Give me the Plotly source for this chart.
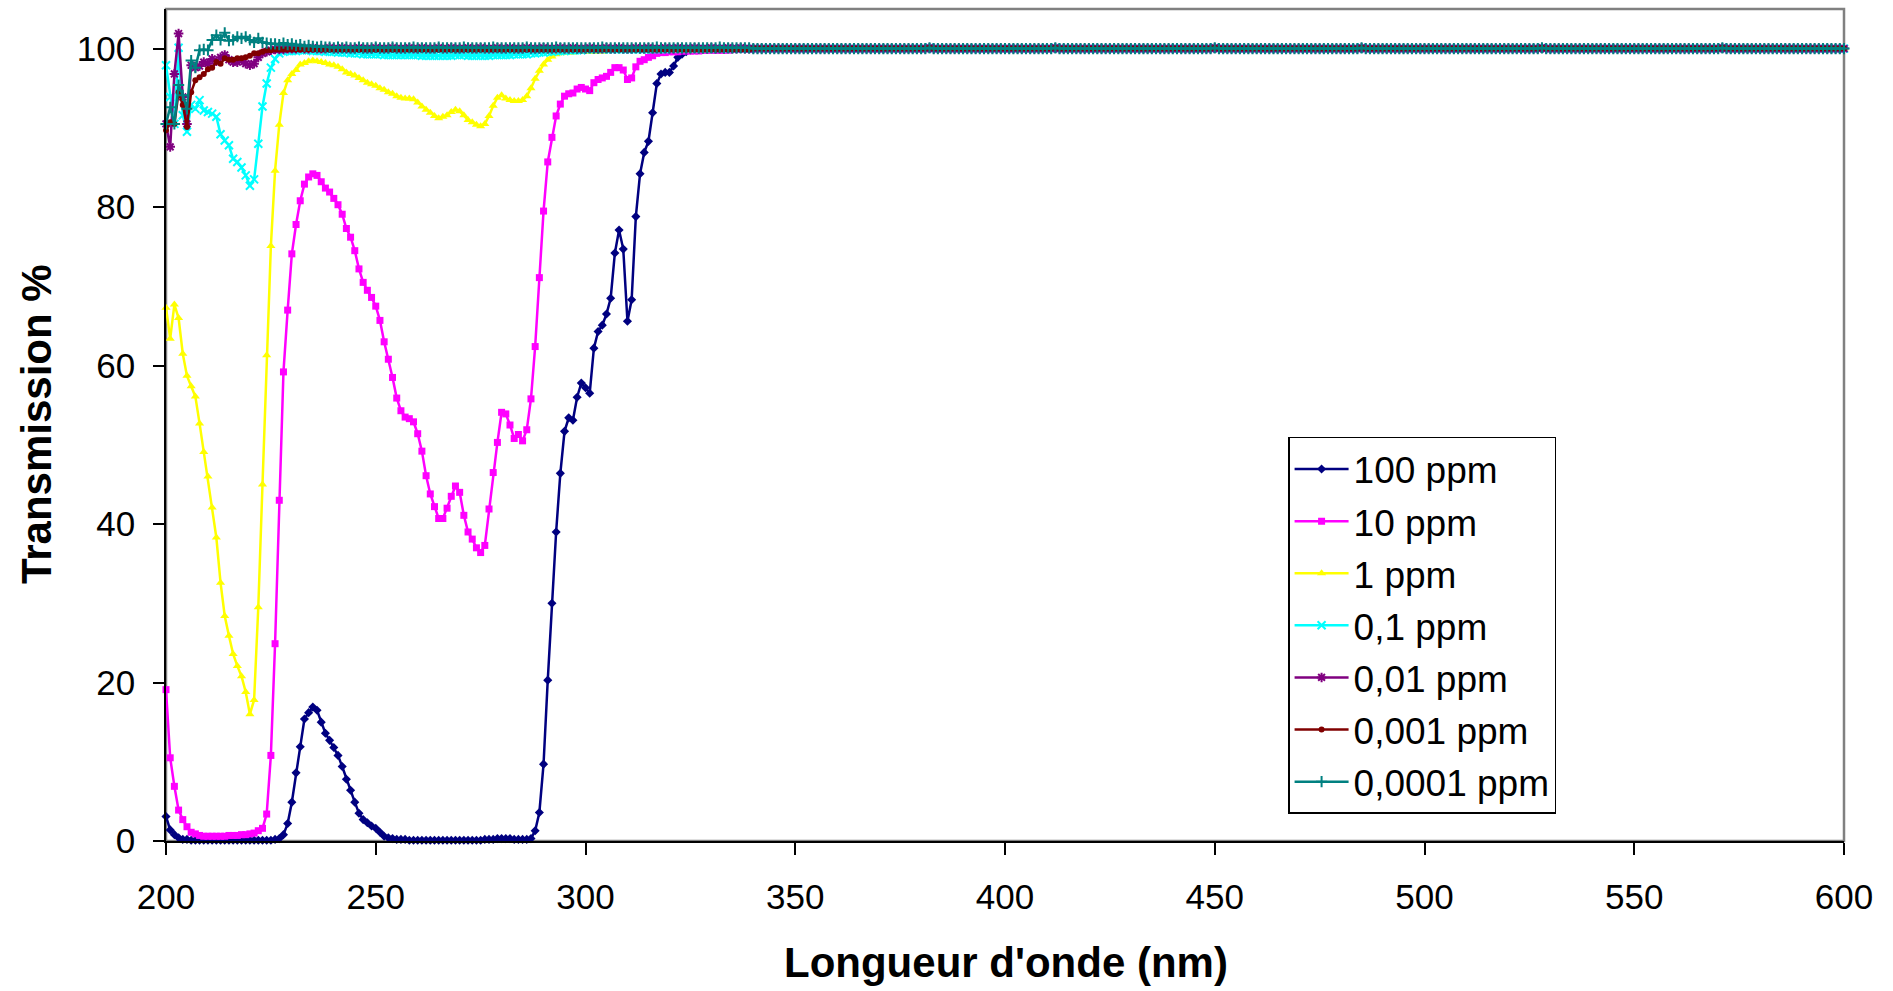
import plotly.graph_objects as go

# ---------------- data ----------------
WAVELENGTH_NM = list(range(200, 601))          # 1 nm sampling, 200..600 nm
SERIES_NAMES = ["100 ppm", "10 ppm", "1 ppm", "0,1 ppm", "0,01 ppm", "0,001 ppm", "0,0001 ppm"]
X_TICKS = [200, 250, 300, 350, 400, 450, 500, 550, 600]
Y_TICKS = [0, 20, 40, 60, 80, 100]

# transmission (%) from 200 to 339 nm, one value per nm
T_100PPM = [
    3.1, 1.4, 0.8, 0.4, 0.2, 0.2, 0.1, 0.1, 0.1, 0.1,        # 200
    0.1, 0.1, 0.1, 0.1, 0.1, 0.1, 0.1, 0.1, 0.1, 0.1,        # 210
    0.1, 0.1, 0.1, 0.1, 0.1, 0.1, 0.2, 0.3, 0.8, 2.2,        # 220
    4.9, 8.6, 11.9, 15.4, 16.2, 16.9, 16.5, 15.0, 13.6, 12.7,  # 230
    11.8, 10.8, 9.4, 7.8, 6.4, 4.9, 3.5, 2.7, 2.3, 1.9,      # 240
    1.6, 1.1, 0.6, 0.4, 0.3, 0.2, 0.2, 0.2, 0.1, 0.1,        # 250
    0.1, 0.1, 0.1, 0.1, 0.1, 0.1, 0.1, 0.1, 0.1, 0.1,        # 260
    0.1, 0.1, 0.1, 0.1, 0.1, 0.1, 0.2, 0.2, 0.2, 0.3,        # 270
    0.3, 0.3, 0.3, 0.2, 0.2, 0.2, 0.2, 0.3, 1.3, 3.6,        # 280
    9.7, 20.3, 30.0, 39.0, 46.4, 51.7, 53.4, 53.1, 56.0, 57.8,  # 290
    57.2, 56.5, 62.2, 64.3, 65.1, 66.5, 68.5, 74.2, 77.1, 74.7,  # 300
    65.6, 68.3, 78.8, 84.2, 86.9, 88.3, 91.9, 95.6, 96.8, 97.0,  # 310
    97.0, 97.8, 98.9, 99.3, 99.6, 99.8, 99.9, 99.9, 100.0, 100.0,  # 320
    100.0, 100.0, 100.0, 100.0, 100.0, 100.0, 100.0, 100.0, 100.0, 100.0,  # 330
]
T_10PPM = [
    19.1, 10.5, 6.9, 3.9, 2.7, 1.8, 1.1, 0.9, 0.7, 0.6,      # 200
    0.6, 0.6, 0.6, 0.6, 0.6, 0.7, 0.7, 0.7, 0.8, 0.8,        # 210
    0.9, 1.0, 1.3, 1.6, 3.4, 10.8, 24.9, 43.0, 59.2, 67.0,   # 220
    74.1, 77.8, 80.8, 82.9, 83.8, 84.2, 84.0, 83.2, 82.4, 81.9,  # 230
    81.1, 80.3, 79.1, 77.3, 76.2, 74.5, 72.2, 70.5, 69.5, 68.6,  # 240
    67.5, 65.7, 63.0, 60.8, 58.5, 55.9, 54.3, 53.5, 53.3, 52.9,  # 250
    51.4, 49.2, 46.1, 43.8, 42.2, 40.7, 40.7, 42.0, 43.5, 44.8,  # 260
    44.0, 41.1, 39.0, 38.1, 37.0, 36.4, 37.3, 41.9, 46.5, 50.3,  # 270
    54.1, 53.9, 52.5, 50.8, 51.3, 50.5, 51.9, 55.8, 62.4, 71.1,  # 280
    79.5, 85.7, 88.8, 91.5, 93.0, 94.0, 94.3, 94.4, 94.9, 95.1,  # 290
    94.9, 94.7, 95.7, 96.1, 96.3, 96.5, 97.0, 97.6, 97.6, 97.3,  # 300
    96.1, 96.3, 97.7, 98.4, 98.6, 98.9, 99.1, 99.4, 99.5, 99.5,  # 310
    99.6, 99.6, 99.6, 99.7, 99.7, 99.7, 99.7, 99.7, 99.8, 99.8,  # 320
    99.8, 99.8, 99.8, 99.8, 99.8, 99.9, 99.9, 99.9, 99.9, 99.9,  # 330
]
T_1PPM = [
    67.3, 63.4, 67.7, 66.0, 61.5, 58.7, 57.4, 56.1, 52.7, 49.1,  # 200
    46.0, 42.1, 38.3, 32.6, 28.4, 25.9, 23.6, 22.1, 20.8, 18.8,  # 210
    16.0, 17.8, 29.5, 45.0, 61.3, 75.1, 84.6, 90.4, 94.4, 96.0,  # 220
    96.8, 97.3, 98.0, 98.2, 98.4, 98.5, 98.4, 98.3, 98.2, 98.0,  # 230
    97.9, 97.7, 97.4, 97.0, 96.8, 96.6, 96.3, 96.0, 95.7, 95.5,  # 240
    95.3, 95.0, 94.8, 94.5, 94.3, 94.0, 93.8, 93.7, 93.7, 93.6,  # 250
    93.2, 92.7, 92.3, 91.9, 91.5, 91.2, 91.4, 91.6, 92.0, 92.3,  # 260
    92.1, 91.6, 91.0, 90.7, 90.4, 90.2, 90.5, 91.5, 92.8, 93.8,  # 270
    94.1, 93.7, 93.5, 93.4, 93.4, 93.5, 94.0, 95.0, 96.2, 97.2,  # 280
    98.0, 98.6, 99.0, 99.3, 99.4, 99.5, 99.5, 99.5, 99.6, 99.6,  # 290
    99.6, 99.6, 99.6, 99.6, 99.6, 99.7, 99.7, 99.7, 99.7, 99.7,  # 300
    99.7, 99.7, 99.7, 99.7, 99.7, 99.7, 99.7, 99.7, 99.7, 99.7,  # 310
    99.8, 99.8, 99.8, 99.8, 99.8, 99.8, 99.8, 99.8, 99.8, 99.8,  # 320
    99.9, 99.9, 99.9, 99.9, 99.9, 99.9, 99.9, 99.9, 99.9, 99.9,  # 330
]
T_01PPM = [
    97.9, 93.9, 90.5, 100.1, 91.6, 89.5, 92.9, 92.4, 93.5, 92.2,  # 200
    92.0, 91.8, 91.4, 89.2, 88.4, 87.8, 86.1, 85.7, 85.0, 84.0,  # 210
    82.7, 83.5, 88.0, 92.7, 95.6, 97.6, 98.7, 99.4, 99.6, 99.7,  # 220
    99.7, 99.7, 99.8, 99.8, 99.8, 99.7, 99.7, 99.7, 99.6, 99.6,  # 230
    99.6, 99.5, 99.5, 99.5, 99.4, 99.4, 99.4, 99.3, 99.3, 99.3,  # 240
    99.3, 99.3, 99.2, 99.2, 99.2, 99.2, 99.2, 99.2, 99.2, 99.2,  # 250
    99.2, 99.1, 99.1, 99.1, 99.1, 99.1, 99.1, 99.1, 99.1, 99.2,  # 260
    99.2, 99.2, 99.1, 99.1, 99.1, 99.1, 99.1, 99.1, 99.2, 99.2,  # 270
    99.2, 99.2, 99.2, 99.3, 99.3, 99.3, 99.3, 99.4, 99.4, 99.5,  # 280
    99.5, 99.6, 99.6, 99.7, 99.7, 99.7, 99.8, 99.8, 99.8, 99.8,  # 290
    99.9, 99.9, 99.9, 99.9, 99.9, 99.9, 99.9, 99.9, 99.9, 99.9,  # 300
    99.9, 99.9, 99.9, 99.9, 99.9, 99.9, 99.9, 99.9, 99.9, 99.9,  # 310
    100.0, 100.0, 100.0, 100.0, 100.0, 100.0, 100.0, 100.0, 100.0, 100.0,  # 320
    100.0, 100.0, 100.0, 100.0, 100.0, 100.0, 100.0, 100.0, 100.0, 100.0,  # 330
]
T_001PPM = [
    90.5, 87.6, 96.8, 101.9, 93.9, 90.5, 97.9, 97.6, 97.8, 98.3,  # 200
    98.1, 98.7, 98.4, 98.9, 99.2, 98.6, 98.3, 98.3, 98.5, 98.1,  # 210
    97.9, 98.1, 98.9, 99.4, 99.6, 99.8, 99.9, 99.9, 99.9, 100.0,  # 220
    100.0, 100.0, 100.1, 100.0, 100.0, 100.1, 100.0, 100.0, 100.0, 100.1,  # 230
    100.0, 100.0, 100.1, 100.0, 100.0, 100.0, 100.1, 100.0, 100.0, 100.0,  # 240
    100.1, 100.0, 100.0, 100.0, 100.1, 100.0, 100.0, 100.0, 100.1, 100.0,  # 250
    100.0, 100.1, 100.0, 100.0, 100.0, 100.1, 100.0, 100.0, 100.1, 100.0,  # 260
    100.0, 100.0, 100.1, 100.0, 100.0, 100.1, 100.0, 100.0, 100.0, 100.1,  # 270
    100.0, 100.0, 100.1, 100.0, 100.0, 100.0, 100.1, 100.0, 100.0, 100.0,  # 280
    100.1, 100.0, 100.0, 100.0, 100.1, 100.0, 100.0, 100.1, 100.0, 100.0,  # 290
    100.0, 100.1, 100.0, 100.0, 100.0, 100.1, 100.0, 100.0, 100.1, 100.0,  # 300
    100.0, 100.0, 100.1, 100.0, 100.0, 100.1, 100.0, 100.0, 100.0, 100.1,  # 310
    100.0, 100.0, 100.1, 100.0, 100.0, 100.0, 100.1, 100.0, 100.0, 100.0,  # 320
    100.1, 100.0, 100.0, 100.0, 100.1, 100.0, 100.0, 100.1, 100.0, 100.0,  # 330
]
T_0001PPM = [
    89.7, 90.7, 90.5, 94.5, 92.9, 90.1, 94.5, 96.0, 96.4, 96.8,  # 200
    97.4, 97.6, 98.3, 98.1, 98.8, 98.6, 98.6, 98.8, 98.8, 98.9,  # 210
    99.1, 99.4, 99.4, 99.6, 99.8, 99.8, 99.9, 99.9, 99.9, 99.9,  # 220
    99.9, 99.9, 99.9, 99.9, 99.9, 99.9, 99.9, 99.9, 99.9, 99.9,  # 230
    99.9, 99.9, 99.9, 99.9, 99.9, 99.9, 99.9, 99.9, 99.9, 99.9,  # 240
    99.9, 99.9, 99.9, 99.9, 99.9, 99.9, 99.9, 99.9, 99.9, 99.9,  # 250
    99.9, 99.9, 99.9, 99.9, 99.9, 99.9, 99.9, 99.9, 99.9, 99.9,  # 260
    99.9, 99.9, 99.9, 99.9, 99.9, 99.9, 99.9, 99.9, 99.9, 99.9,  # 270
    99.9, 99.9, 99.9, 99.9, 99.9, 99.9, 99.9, 99.9, 99.9, 99.9,  # 280
    99.9, 99.9, 99.9, 99.9, 99.9, 99.9, 99.9, 99.9, 99.9, 99.9,  # 290
    99.9, 99.9, 99.9, 99.9, 99.9, 99.9, 99.9, 99.9, 99.9, 99.9,  # 300
    99.9, 99.9, 99.9, 99.9, 99.9, 99.9, 99.9, 99.9, 99.9, 99.9,  # 310
    99.9, 99.9, 99.9, 99.9, 99.9, 99.9, 99.9, 99.9, 99.9, 99.9,  # 320
    99.9, 99.9, 99.9, 99.9, 99.9, 99.9, 99.9, 99.9, 99.9, 99.9,  # 330
]
T_00001PPM = [
    90.5, 92.6, 90.5, 95.4, 94.1, 92.4, 98.5, 97.6, 99.8, 99.9,  # 200
    99.8, 101.1, 101.7, 101.1, 102.0, 101.0, 101.1, 101.5, 101.3, 101.5,  # 210
    101.1, 100.8, 101.3, 100.8, 100.7, 100.6, 100.6, 100.5, 100.7, 100.5,  # 220
    100.6, 100.4, 100.5, 100.3, 100.4, 100.3, 100.2, 100.3, 100.2, 100.2,  # 230
    100.1, 100.2, 100.1, 100.2, 100.1, 100.1, 100.2, 100.1, 100.1, 100.1,  # 240
    100.2, 100.1, 100.1, 100.1, 100.2, 100.1, 100.1, 100.1, 100.1, 100.2,  # 250
    100.1, 100.1, 100.1, 100.1, 100.1, 100.2, 100.1, 100.1, 100.1, 100.1,  # 260
    100.1, 100.2, 100.1, 100.1, 100.1, 100.1, 100.1, 100.1, 100.2, 100.1,  # 270
    100.1, 100.1, 100.1, 100.1, 100.1, 100.1, 100.2, 100.1, 100.1, 100.1,  # 280
    100.1, 100.1, 100.1, 100.2, 100.1, 100.1, 100.1, 100.1, 100.1, 100.1,  # 290
    100.1, 100.1, 100.1, 100.1, 100.2, 100.1, 100.1, 100.1, 100.1, 100.1,  # 300
    100.1, 100.1, 100.1, 100.1, 100.1, 100.1, 100.1, 100.2, 100.1, 100.1,  # 310
    100.1, 100.1, 100.1, 100.1, 100.1, 100.1, 100.1, 100.1, 100.1, 100.1,  # 320
    100.1, 100.1, 100.2, 100.1, 100.1, 100.1, 100.1, 100.1, 100.1, 100.1,  # 330
]
# measured plateau, 340..600 nm (all concentrations sit at ~100 %)
T_PLATEAU_340_600 = [
    100.0, 100.0, 100.0, 100.0, 100.0, 100.0, 100.0, 100.0, 100.0, 100.0, 100.0, 100.0, 100.0, 100.0, 100.0, 100.0, 100.0, 100.0, 100.0, 100.0,
    100.0, 100.0, 100.0, 100.0, 100.0, 100.0, 100.0, 100.0, 100.0, 100.0, 100.0, 100.0, 100.0, 100.0, 100.0, 100.0, 100.0, 100.0, 100.0, 100.0,
    100.0, 100.0, 100.1, 100.0, 100.0, 100.0, 100.0, 100.0, 100.0, 100.0, 100.0, 100.0, 100.0, 100.0, 100.0, 100.0, 100.0, 100.0, 100.0, 100.0,
    100.0, 100.0, 100.0, 100.0, 100.0, 100.0, 100.0, 100.0, 100.0, 100.0, 100.0, 100.0, 100.1, 100.0, 100.0, 100.0, 100.0, 100.0, 100.0, 100.0,
    100.0, 100.0, 100.0, 100.0, 100.0, 100.0, 100.0, 100.0, 100.0, 100.0, 100.0, 100.0, 100.0, 100.0, 100.0, 100.0, 100.0, 100.0, 100.0, 100.0,
    100.0, 100.0, 100.0, 100.0, 100.0, 100.0, 100.0, 100.0, 100.0, 100.0, 100.1, 100.0, 100.0, 100.0, 100.0, 100.0, 100.0, 100.0, 100.0, 100.0,
    100.0, 100.0, 100.0, 100.0, 100.0, 100.0, 100.0, 100.0, 100.0, 100.0, 100.0, 100.0, 100.0, 100.0, 100.0, 100.0, 100.0, 100.0, 100.0, 100.0,
    100.0, 100.0, 100.0, 100.0, 100.0, 100.1, 100.0, 100.0, 100.0, 100.0, 100.0, 100.0, 100.0, 100.0, 100.0, 100.0, 100.0, 100.0, 100.0, 100.0,
    100.0, 100.0, 100.0, 100.0, 100.0, 100.0, 100.0, 100.0, 100.0, 100.0, 100.0, 100.0, 100.0, 100.0, 100.0, 100.0, 100.0, 100.0, 100.0, 100.0,
    100.0, 100.0, 100.0, 100.0, 100.0, 100.0, 100.0, 100.0, 100.1, 100.0, 100.0, 100.0, 100.0, 100.0, 100.0, 100.0, 100.0, 100.0, 100.0, 100.0,
    100.0, 100.0, 100.0, 100.0, 100.0, 100.0, 100.0, 100.0, 100.0, 100.0, 100.0, 100.0, 100.0, 100.0, 100.0, 100.0, 100.0, 100.0, 100.0, 100.0,
    100.0, 100.0, 100.0, 100.0, 100.0, 100.0, 100.0, 100.0, 100.0, 100.0, 100.0, 100.1, 100.0, 100.0, 100.0, 100.0, 100.0, 100.0, 100.0, 100.0,
    100.0, 100.0, 100.0, 100.0, 100.0, 100.0, 100.0, 100.0, 100.0, 100.0, 100.0, 100.0, 100.0, 100.0, 100.0, 100.0, 100.0, 100.0, 100.0, 100.0,
    100.0,
]

SERIES_HEADS = [T_100PPM, T_10PPM, T_1PPM, T_01PPM, T_001PPM, T_0001PPM, T_00001PPM]

# ---------------- styles ----------------
COLORS = ["#000080", "#FF00FF", "#FFFF00", "#00FFFF", "#800080", "#800000", "#008080"]
SYMBOLS = ["diamond", "square", "triangle-up", "x-thin-open", "asterisk-open", "circle", "cross-thin-open"]
SIZES = [7, 7, 8, 8, 8, 6, 8]
FONT = "Liberation Sans, Arial, sans-serif"

fig = go.Figure()
for name, head, color, symbol, size in zip(SERIES_NAMES, SERIES_HEADS, COLORS, SYMBOLS, SIZES):
    values = head + T_PLATEAU_340_600
    is_open = symbol.endswith("open")
    fig.add_trace(go.Scatter(
        x=WAVELENGTH_NM[:len(values)], y=values, name=name,
        mode="lines+markers", legendgroup=name,
        line=dict(color=color, width=2.5),
        marker=dict(symbol=symbol, size=size, color=color,
                    line=dict(color=color, width=2 if is_open else 0)),
        cliponaxis=False,
    ))

fig.update_layout(
    width=1893, height=991,
    margin=dict(l=166, r=49, t=9, b=150, autoexpand=False),
    paper_bgcolor="white", plot_bgcolor="white",
    font=dict(family=FONT, size=35, color="black"),
    showlegend=True,
    legend=dict(x=0.6687, y=0.4856, xanchor="left", yanchor="top",
                bgcolor="white", bordercolor="black", borderwidth=1.5,
                font=dict(family=FONT, size=37, color="black"),
                tracegroupgap=1, itemwidth=54),
    shapes=[dict(type="rect", xref="paper", yref="paper", x0=0, x1=1, y0=0, y1=1,
                 line=dict(color="#808080", width=2.5), layer="below")],
    annotations=[
        dict(text="<b>Longueur d'onde (nm)</b>", xref="paper", yref="paper",
             x=0.5004, y=-0.1466, xanchor="center", yanchor="middle", showarrow=False,
             font=dict(family=FONT, size=42, color="black")),
        dict(text="<b>Transmission %</b>", xref="paper", yref="paper",
             x=-0.0775, y=0.501, xanchor="center", yanchor="middle", showarrow=False,
             textangle=-90, font=dict(family=FONT, size=42, color="black")),
    ],
)
fig.update_xaxes(range=[200, 600], tickvals=X_TICKS, ticks="outside", ticklen=12,
                 tickwidth=1.5, tickcolor="black", showline=True, linecolor="black",
                 linewidth=1.5, showgrid=False, zeroline=False, ticklabelstandoff=12,
                 tickfont=dict(family=FONT, size=35, color="black"))
fig.update_yaxes(range=[0, 105], tickvals=Y_TICKS, ticks="outside", ticklen=11,
                 tickwidth=1.5, tickcolor="black", showline=True, linecolor="black",
                 linewidth=1.5, showgrid=False, zeroline=False, ticklabelstandoff=11,
                 tickfont=dict(family=FONT, size=35, color="black"))

fig.write_html("out.html", config={"displayModeBar": False},
               post_script="document.body.style.margin='0';document.body.style.overflow='hidden';")
